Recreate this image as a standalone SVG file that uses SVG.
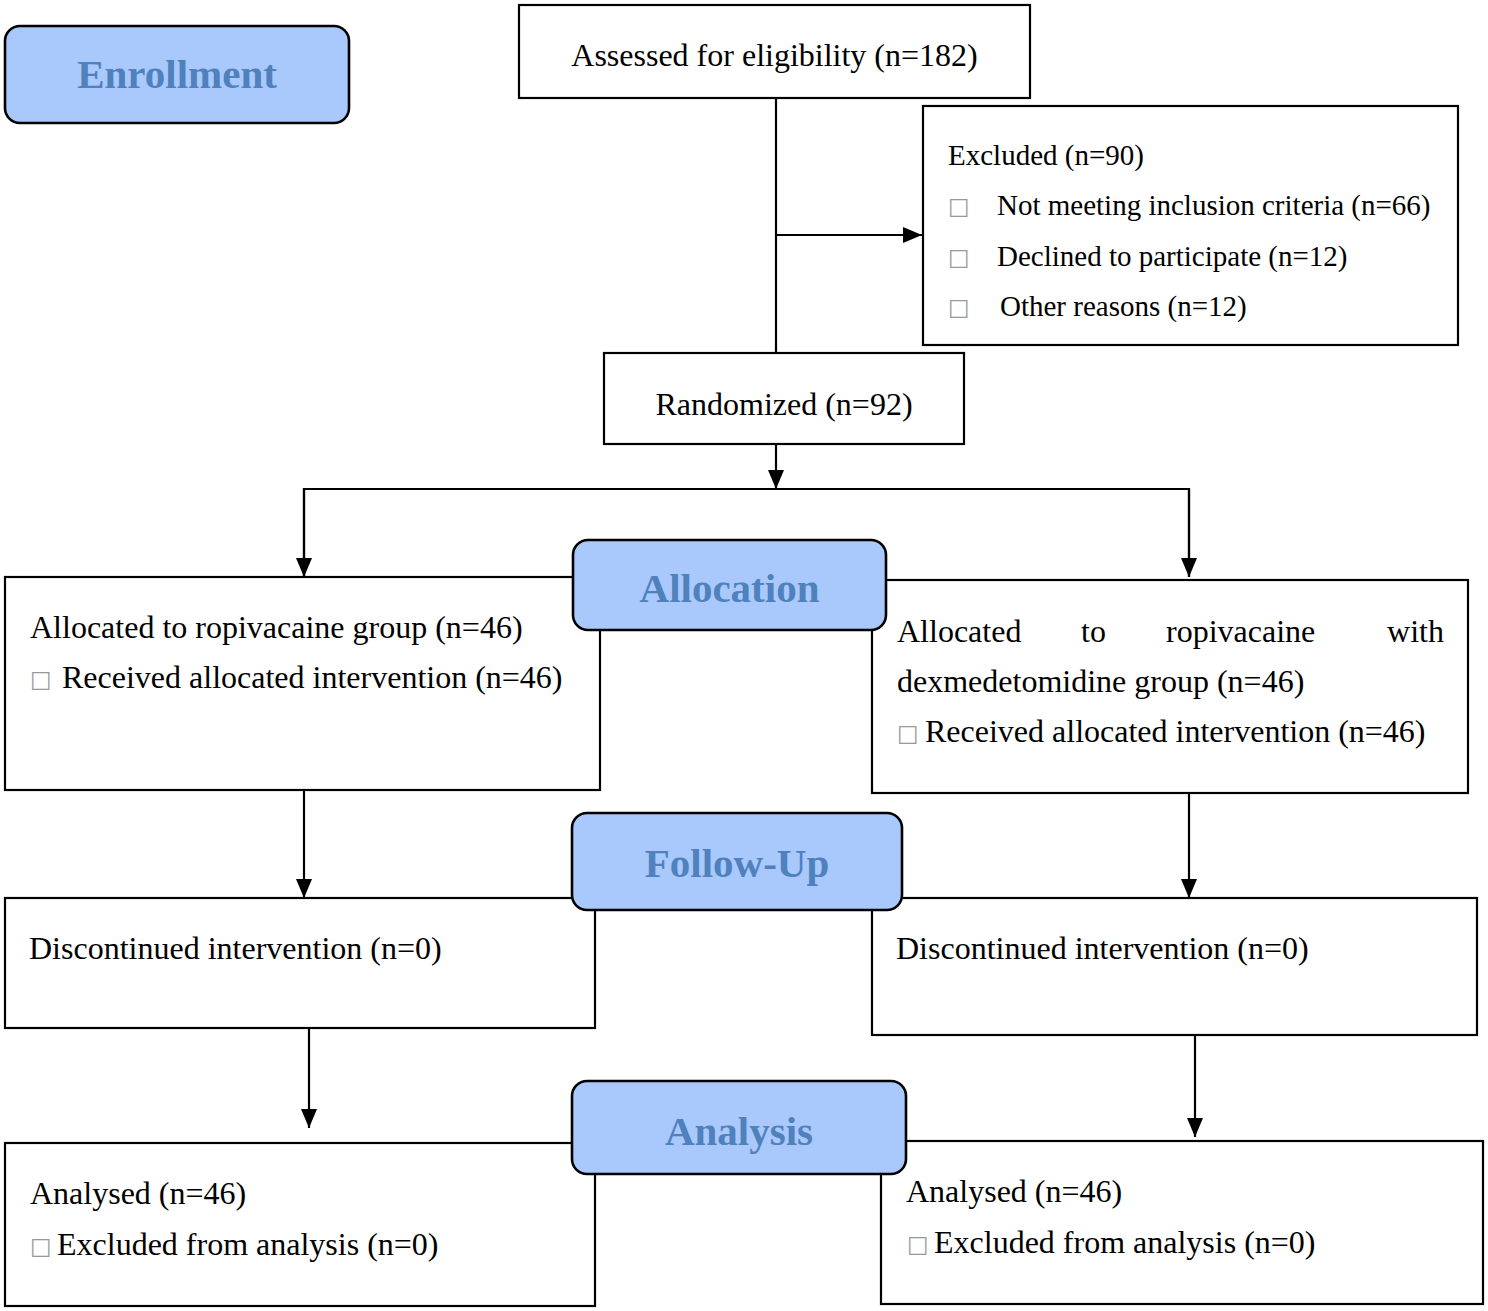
<svg xmlns="http://www.w3.org/2000/svg" width="1488" height="1311" viewBox="0 0 1488 1311">
<defs>
<style>
.box{fill:#fff;stroke:#000;stroke-width:2.2}
.lab{fill:#a9c8fc;stroke:#000;stroke-width:2.6}
.t{font-family:"Liberation Serif","Times New Roman",serif;font-size:32px;fill:#000}
.te{font-family:"Liberation Serif","Times New Roman",serif;font-size:29px;fill:#000}
.lt{font-family:"Liberation Serif","Times New Roman",serif;font-size:41px;font-weight:bold;fill:#4f81bd;text-anchor:middle}
.bul{font-family:"DejaVu Sans",sans-serif;font-size:23px;fill:#999}
.c{fill:none;stroke:#000;stroke-width:2.2}
</style>
<marker id="a" markerWidth="19" markerHeight="16" viewBox="0 0 19 16" refX="19" refY="8" orient="auto" markerUnits="userSpaceOnUse">
<path d="M0,0 L19,8 L0,16 Z" fill="#000"/>
</marker>
</defs>

<g id="connectors">
<line class="c" x1="776" y1="98" x2="776" y2="353"/>
<line class="c" x1="776" y1="235" x2="922" y2="235" marker-end="url(#a)"/>
<line class="c" x1="776" y1="444" x2="776" y2="489" marker-end="url(#a)"/>
<polyline class="c" points="304,577 304,489 1189,489 1189,577"/>
<line class="c" x1="304" y1="489" x2="304" y2="577" marker-end="url(#a)"/>
<line class="c" x1="1189" y1="489" x2="1189" y2="577" marker-end="url(#a)"/>
<line class="c" x1="304" y1="790" x2="304" y2="898" marker-end="url(#a)"/>
<line class="c" x1="1189" y1="793" x2="1189" y2="898" marker-end="url(#a)"/>
<line class="c" x1="309" y1="1028" x2="309" y2="1128" marker-end="url(#a)"/>
<line class="c" x1="1195" y1="1035" x2="1195" y2="1137" marker-end="url(#a)"/>
</g>

<g id="assessed">
<rect class="box" x="519" y="5" width="511" height="93"/>
<text class="t" x="774.5" y="66" text-anchor="middle">Assessed for eligibility (n=182)</text>
</g>

<g id="excluded">
<rect class="box" x="923" y="106" width="535" height="239"/>
<text class="te" x="948" y="165">Excluded (n=90)</text>
<text class="bul" x="948" y="214">□</text>
<text class="te" x="997" y="215">Not meeting inclusion criteria (n=66)</text>
<text class="bul" x="948" y="265">□</text>
<text class="te" x="997" y="266">Declined to participate (n=12)</text>
<text class="bul" x="948" y="315">□</text>
<text class="te" x="1000" y="316">Other reasons (n=12)</text>
</g>

<g id="randomized">
<rect class="box" x="604" y="353" width="360" height="91"/>
<text class="t" x="784" y="415" text-anchor="middle">Randomized (n=92)</text>
</g>

<g id="alloc-left">
<rect class="box" x="5" y="577" width="595" height="213"/>
<text class="t" x="30" y="638">Allocated to ropivacaine group (n=46)</text>
<text class="bul" x="30" y="687">□</text>
<text class="t" x="62" y="688">Received allocated intervention (n=46)</text>
</g>

<g id="alloc-right">
<rect class="box" x="872" y="580" width="596" height="213"/>
<text class="t" x="897" y="642">Allocated</text>
<text class="t" x="1081" y="642">to</text>
<text class="t" x="1166" y="642">ropivacaine</text>
<text class="t" x="1444" y="642" text-anchor="end">with</text>
<text class="t" x="897" y="692">dexmedetomidine group (n=46)</text>
<text class="bul" x="897" y="741">□</text>
<text class="t" x="925" y="742">Received allocated intervention (n=46)</text>
</g>

<g id="fu-left">
<rect class="box" x="5" y="898" width="590" height="130"/>
<text class="t" x="29" y="959">Discontinued intervention (n=0)</text>
</g>

<g id="fu-right">
<rect class="box" x="872" y="898" width="605" height="137"/>
<text class="t" x="896" y="959">Discontinued intervention (n=0)</text>
</g>

<g id="an-left">
<rect class="box" x="5" y="1143" width="590" height="163"/>
<text class="t" x="30" y="1204">Analysed (n=46)</text>
<text class="bul" x="30" y="1254">□</text>
<text class="t" x="57" y="1255">Excluded from analysis (n=0)</text>
</g>

<g id="an-right">
<rect class="box" x="881" y="1141" width="602" height="163"/>
<text class="t" x="906" y="1202">Analysed (n=46)</text>
<text class="bul" x="907" y="1252">□</text>
<text class="t" x="934" y="1253">Excluded from analysis (n=0)</text>
</g>

<g id="enrollment">
<rect class="lab" x="5" y="26" width="344" height="97" rx="15"/>
<text class="lt" x="177" y="88">Enrollment</text>
</g>

<g id="allocation">
<rect class="lab" x="573" y="540" width="313" height="90" rx="15"/>
<text class="lt" x="729.5" y="602">Allocation</text>
</g>

<g id="follow-up">
<rect class="lab" x="572" y="813" width="330" height="97" rx="15"/>
<text class="lt" x="737" y="877">Follow-Up</text>
</g>

<g id="analysis">
<rect class="lab" x="572" y="1081" width="334" height="93" rx="15"/>
<text class="lt" x="739" y="1145">Analysis</text>
</g>
</svg>
